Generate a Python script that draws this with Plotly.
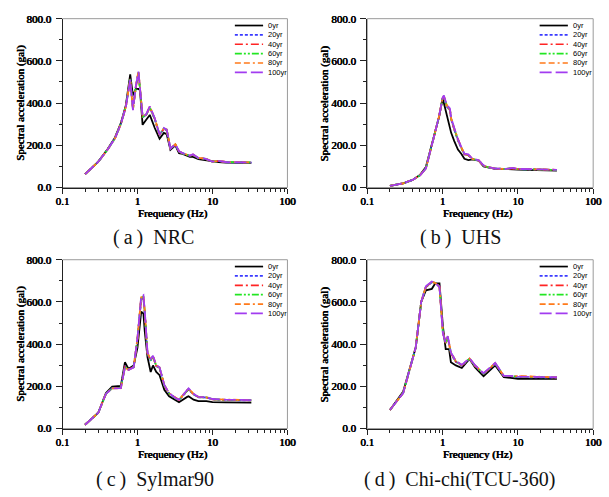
import plotly.graph_objects as go

# ---- series styling -------------------------------------------------------
SERIES = ["0yr", "20yr", "40yr", "60yr", "80yr", "100yr"]
COLORS = ["#000000", "#3a3aff", "#ff2424", "#22e622", "#ff7a1a", "#a23cf0"]
DASHES = ["solid", "3px,2px", "8px,3px,2px,3px", "7px,2px,2px,2px,2px,2px",
          "6px,3px,6px,3px,2px,3px", "12px,4px"]

# ---- (a) NRC --------------------------------------------------------------
nrc_freq = [0.2, 0.3, 0.4, 0.5, 0.6, 0.7, 0.8, 0.87, 0.95, 1.03, 1.08, 1.17, 1.3, 1.46,
            1.7, 1.97, 2.25, 2.45, 2.75, 3.2, 3.58, 4.0, 5.0, 5.5, 6.5, 8.0, 10, 12, 15, 20, 25, 33]
nrc_0yr = [63, 123, 182, 236, 305, 390, 536, 436, 467, 467, 462, 297, 320, 344,
           282, 231, 259, 253, 179, 200, 163, 159, 145, 145, 135, 130, 122, 120, 118, 118, 117, 117]
nrc_20yr = [63, 122, 181, 233, 302, 384, 518, 375, 474, 543, 466, 333, 342, 378,
            324, 248, 278, 272, 183, 203, 170, 162, 150, 154, 139, 136, 122, 125, 120, 120, 119, 118]
nrc_40yr = [63, 122, 180, 233, 301, 383, 515, 372, 475, 545, 468, 334, 343, 380,
            325, 249, 279, 273, 184, 204, 171, 162, 150, 155, 139, 136, 123, 125, 121, 120, 120, 119]
nrc_60yr = [63, 122, 180, 232, 301, 383, 514, 370, 476, 546, 470, 335, 344, 378,
            326, 250, 280, 274, 184, 204, 171, 162, 150, 155, 139, 136, 123, 125, 121, 121, 120, 119]
nrc_80yr = [63, 122, 180, 232, 300, 382, 512, 368, 478, 551, 472, 337, 346, 384,
            328, 250, 281, 275, 185, 205, 172, 163, 151, 156, 140, 137, 123, 126, 121, 121, 120, 119]
nrc_100yr = [63, 122, 180, 232, 300, 382, 510, 367, 480, 549, 470, 336, 345, 385,
             328, 251, 282, 275, 185, 205, 172, 163, 151, 157, 140, 137, 123, 126, 121, 121, 120, 119]

# ---- (b) UHS --------------------------------------------------------------
uhs_freq = [0.2, 0.3, 0.4, 0.5, 0.6, 0.7, 0.8, 0.9, 1.0, 1.04, 1.14, 1.25, 1.3, 1.43, 1.53,
            1.6, 1.78, 1.95, 2.2, 2.5, 3.0, 3.5, 4, 5, 7, 8.5, 10, 13, 20, 33]
uhs_0yr = [8, 20, 36, 59, 97, 182, 267, 336, 421, 400, 344, 290, 259, 220, 197,
           180, 159, 136, 130, 133, 128, 100, 95, 88, 88, 88, 85, 84, 82, 80]
uhs_20yr = [8, 20, 36, 58, 92, 180, 266, 338, 423, 429, 383, 366, 322, 274, 244,
            222, 186, 157, 152, 134, 129, 103, 96, 89, 88, 91, 87, 87, 85, 83]
uhs_40yr = [8, 20, 36, 58, 91, 179, 266, 339, 423, 431, 385, 368, 324, 276, 246,
            224, 187, 158, 153, 134, 129, 103, 96, 89, 88, 91, 87, 87, 85, 83]
uhs_60yr = [8, 20, 36, 57, 91, 179, 266, 339, 424, 432, 386, 370, 326, 278, 247,
            225, 188, 158, 154, 134, 129, 104, 96, 90, 88, 92, 87, 87, 85, 83]
uhs_80yr = [8, 20, 36, 57, 90, 178, 265, 340, 424, 434, 388, 372, 328, 280, 248,
            226, 189, 159, 155, 135, 130, 104, 97, 90, 88, 92, 88, 88, 86, 84]
uhs_100yr = [8, 20, 36, 57, 90, 178, 265, 340, 425, 436, 390, 375, 330, 282, 250,
             228, 190, 160, 157, 135, 130, 105, 97, 90, 88, 93, 88, 88, 86, 84]

# ---- (c) Sylmar90 ---------------------------------------------------------
syl_freq = [0.2, 0.3, 0.38, 0.46, 0.6, 0.68, 0.76, 0.89, 1.0, 1.12, 1.2, 1.25, 1.36, 1.5,
            1.61, 1.78, 1.97, 2.28, 2.64, 3.2, 3.58, 4.6, 4.8, 5.6, 6.5, 8.3, 10, 15, 20, 33]
syl_0yr = [18, 75, 168, 199, 202, 314, 283, 299, 384, 553, 545, 461, 338, 268,
           299, 268, 253, 184, 153, 134, 125, 150, 153, 137, 130, 130, 125, 124, 123, 123]
syl_20yr = [18, 75, 166, 192, 193, 293, 280, 292, 422, 612, 618, 548, 352, 322,
            340, 296, 286, 203, 166, 143, 135, 179, 185, 161, 148, 147, 138, 135, 134, 133]
syl_40yr = [18, 75, 166, 191, 192, 292, 279, 291, 424, 615, 622, 552, 354, 324,
            341, 297, 287, 204, 166, 144, 135, 180, 186, 162, 149, 147, 138, 136, 135, 134]
syl_60yr = [18, 75, 165, 191, 192, 291, 279, 291, 426, 618, 626, 555, 356, 326,
            342, 298, 288, 205, 167, 144, 136, 181, 187, 163, 149, 148, 139, 136, 135, 134]
syl_80yr = [18, 75, 165, 190, 191, 290, 278, 290, 428, 622, 630, 558, 358, 328,
            344, 299, 289, 206, 167, 145, 136, 183, 189, 164, 150, 148, 139, 137, 136, 135]
syl_100yr = [18, 75, 165, 190, 191, 290, 278, 290, 430, 625, 632, 560, 360, 330,
             345, 300, 290, 207, 168, 145, 137, 184, 190, 165, 150, 149, 140, 137, 136, 135]

# ---- (d) Chi-chi (TCU-360) ------------------------------------------------
chi_freq = [0.2, 0.3, 0.44, 0.52, 0.6, 0.72, 0.8, 0.91, 1.01, 1.1, 1.17, 1.22, 1.29,
            1.5, 1.8, 2.28, 2.7, 3.5, 5.0, 6.5, 8, 10, 15, 20, 33]
chi_0yr = [88, 175, 384, 600, 655, 662, 688, 688, 484, 376, 376, 376, 314,
           299, 287, 330, 290, 248, 299, 243, 240, 236, 235, 235, 235]
chi_20yr = [88, 170, 384, 600, 670, 693, 690, 674, 458, 404, 430, 394, 354,
            316, 298, 329, 296, 258, 307, 248, 248, 244, 243, 242, 241]
chi_40yr = [88, 169, 384, 600, 671, 694, 690, 673, 456, 405, 432, 396, 356,
            317, 299, 330, 297, 259, 308, 249, 248, 245, 244, 243, 242]
chi_60yr = [88, 169, 384, 600, 672, 695, 690, 672, 454, 406, 434, 398, 358,
            318, 300, 331, 298, 260, 309, 249, 249, 245, 244, 243, 242]
chi_80yr = [88, 168, 384, 600, 673, 696, 690, 671, 452, 408, 436, 399, 360,
            319, 301, 332, 299, 261, 310, 250, 249, 246, 245, 244, 243]
chi_100yr = [88, 168, 384, 600, 674, 697, 690, 670, 450, 407, 438, 400, 361,
             320, 302, 333, 300, 262, 311, 250, 250, 246, 245, 244, 243]

PANELS = [
    ("(a)", "NRC", nrc_freq, [nrc_0yr, nrc_20yr, nrc_40yr, nrc_60yr, nrc_80yr, nrc_100yr]),
    ("(b)", "UHS", uhs_freq, [uhs_0yr, uhs_20yr, uhs_40yr, uhs_60yr, uhs_80yr, uhs_100yr]),
    ("(c)", "Sylmar90", syl_freq, [syl_0yr, syl_20yr, syl_40yr, syl_60yr, syl_80yr, syl_100yr]),
    ("(d)", "Chi-chi(TCU-360)", chi_freq, [chi_0yr, chi_20yr, chi_40yr, chi_60yr, chi_80yr, chi_100yr]),
]

X_TICKS = [0.1, 1, 10, 100]
X_TICKTEXT = ["0.1", "1", "10", "100"]
X_MINOR = [0.2, 0.3, 0.4, 0.5, 0.6, 0.7, 0.8, 0.9, 2, 3, 4, 5, 6, 7, 8, 9,
           20, 30, 40, 50, 60, 70, 80, 90]
Y_TICKS = [0, 200, 400, 600, 800]

W, H = 609, 497
# plot areas in pixels: (left, right, top, bottom)
BOXES = [(57, 288, 13, 186), (370, 602, 13, 186), (57, 288, 260, 433), (370, 602, 260, 433)]
CAPTION_X = [150.5, 466, 151.5, 464.5]
CAPTION_Y = [237, 237, 485, 485]

SERIF = "Liberation Serif"
SANS = "Liberation Sans"
# heavy serif look: regular face thickened by a thin horizontal shadow
HEAVY = "0.45px 0 0 #000, -0.2px 0 0 #000"

fig = go.Figure()
layout = dict(width=W, height=H, margin=dict(l=0, r=0, t=0, b=0),
              paper_bgcolor="white", plot_bgcolor="white", showlegend=False)
shapes, annotations = [], []

for i, (tag, name, freq, curves) in enumerate(PANELS):
    n = "" if i == 0 else str(i + 1)
    xa, ya = "x" + n, "y" + n
    L, R, T, B = BOXES[i]
    pw, ph = R - L, B - T

    for label, vals, col, dsh in zip(SERIES, curves, COLORS, DASHES):
        fig.add_trace(go.Scatter(x=freq, y=vals, mode="lines", name=label,
                                 xaxis=xa, yaxis=ya,
                                 line=dict(color=col, width=1.8, dash=dsh)))

    tickfont = dict(family=SERIF, size=11, color="black", shadow=HEAVY)
    layout["xaxis" + n] = dict(
        type="log", range=[-1, 2], domain=[L / W, R / W], anchor=ya,
        tickmode="array", tickvals=X_TICKS, ticktext=X_TICKTEXT,
        ticks="outside", ticklen=5, tickwidth=1, tickcolor="#222",
        ticklabelstandoff=-2,
        showline=True, linecolor="#222", linewidth=1, mirror=False,
        showgrid=False, zeroline=False, tickfont=tickfont,
        minor=dict(tickmode="array", tickvals=X_MINOR, ticks="outside",
                   ticklen=3, tickcolor="#222", showgrid=False))
    layout["yaxis" + n] = dict(
        range=[0, 800], domain=[1 - B / H, 1 - T / H], anchor=xa,
        tickmode="array", tickvals=Y_TICKS, tickformat=".1f",
        ticks="outside", ticklen=6, tickwidth=1, tickcolor="#222",
        ticklabelstandoff=2,
        showline=True, linecolor="#222", linewidth=1, mirror=False,
        showgrid=False, zeroline=False, tickfont=tickfont,
        minor=dict(dtick=100, ticks="outside", ticklen=3, tickcolor="#222",
                   showgrid=False))

    # light frame around the plot area
    shapes.append(dict(type="rect", xref=xa + " domain", yref=ya + " domain",
                       x0=0, x1=1, y0=0, y1=1, layer="below",
                       line=dict(color="#9a9a9a", width=1)))

    # axis titles
    titlefont = dict(family=SERIF, size=11, color="black", shadow=HEAVY)
    annotations.append(dict(text="Frequency (Hz)", xref=xa + " domain", yref=ya + " domain",
                            x=0.49, y=-(213 - 186) / ph, showarrow=False,
                            xanchor="center", yanchor="middle", font=titlefont))
    annotations.append(dict(text="Spectral acceleration (gal)", xref=xa + " domain",
                            yref=ya + " domain", x=-44 / pw, y=0.5, textangle=-90,
                            showarrow=False, xanchor="center", yanchor="middle",
                            font=titlefont))

    # panel caption
    annotations.append(dict(text=tag.replace("(", "(\u2009").replace(")", "\u2009)")
                            + "\u00a0\u00a0" + name,
                            xref="paper", yref="paper",
                            x=CAPTION_X[i] / W, y=1 - CAPTION_Y[i] / H,
                            showarrow=False, xanchor="center", yanchor="middle",
                            font=dict(family=SERIF, size=20, color="#111")))

    # compact in-plot legend
    lx0, lx1 = 177, 206
    for k, (label, col, dsh) in enumerate(zip(SERIES, COLORS, DASHES)):
        ry = 1 - (7 + 9.6 * k) / ph
        shapes.append(dict(type="line", xref=xa + " domain", yref=ya + " domain",
                           x0=lx0 / pw, x1=lx1 / pw, y0=ry, y1=ry,
                           line=dict(color=col, width=1.7, dash=dsh)))
        annotations.append(dict(text=label, xref=xa + " domain", yref=ya + " domain",
                                x=(lx1 + 3) / pw, y=ry, showarrow=False,
                                xanchor="left", yanchor="middle",
                                font=dict(family=SANS, size=7.5, color="black")))

layout["shapes"] = shapes
layout["annotations"] = annotations
fig.update_layout(**layout)
fig.write_html("out.html")
